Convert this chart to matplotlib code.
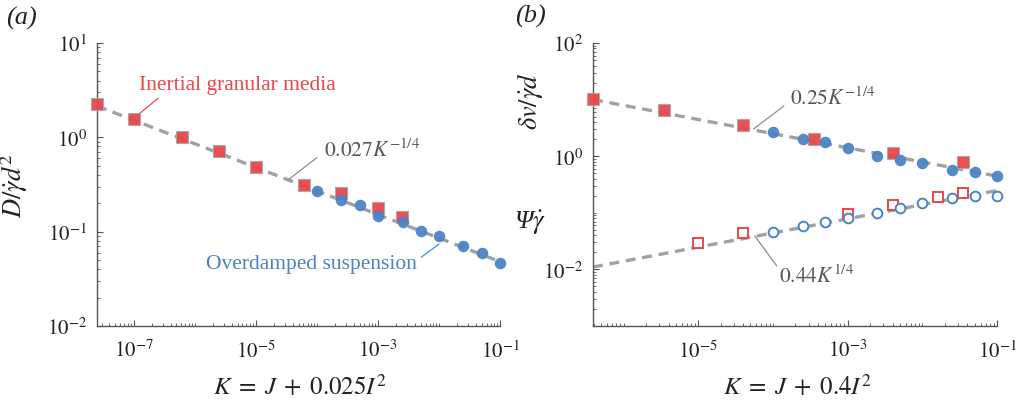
import numpy as np
import matplotlib
matplotlib.use("Agg")
import matplotlib.pyplot as plt

plt.rcParams['font.family'] = ['Liberation Serif', 'DejaVu Serif']
plt.rcParams['mathtext.fontset'] = 'stix'

RED = '#e8474a'
BLUE = '#4a84c4'
LINE = '#9ea2a8'
TXT = '#555a60'

# panel (a): diffusivity
a_gran_K = [2.5e-8, 1e-7, 6.2e-7, 2.5e-6, 1e-5, 6.2e-5, 2.5e-4, 1e-3, 2.5e-3]
a_gran_D = [2.24, 1.55, 1.0, 0.72, 0.485, 0.31, 0.255, 0.18, 0.143]
a_susp_K = [1e-4, 2.5e-4, 5e-4, 1e-3, 2.6e-3, 5.1e-3, 1e-2, 2.5e-2, 5e-2, 0.1]
a_susp_D = [0.27, 0.215, 0.19, 0.147, 0.126, 0.102, 0.089, 0.07, 0.059, 0.046]
a_fit_K = [2.5e-8, 0.1]
a_fit_coef = 0.027

# panel (b): velocity fluctuations and Psi*gamma_dot
b_gran_K = [3.9e-7, 3.5e-6, 4e-5, 3.5e-4, 4e-3, 3.5e-2]
b_gran_dv = [10.2, 6.6, 3.57, 2.02, 1.13, 0.80]
b_susp_K = [1e-4, 2.5e-4, 5e-4, 1e-3, 2.5e-3, 5e-3, 1e-2, 2.5e-2, 5e-2, 0.1]
b_susp_dv = [2.72, 2.02, 1.77, 1.38, 1.01, 0.86, 0.75, 0.58, 0.535, 0.455]
b_gran_psi_K = [1e-5, 4e-5, 1e-3, 4e-3, 1.6e-2, 3.5e-2]
b_gran_psi = [0.029, 0.0437, 0.096, 0.14, 0.189, 0.222]
b_susp_psi = [0.0455, 0.0596, 0.070, 0.081, 0.10, 0.121, 0.15, 0.18, 0.194, 0.20]
b_fit_K = [3.9e-7, 0.1]
b_fit_dv_coef = 0.25
b_fit_psi_coef = 0.44


def style_axes(ax, xlim, ylim, xmaj, ymaj):
    ax.set_xscale('log')
    ax.set_yscale('log')
    ax.set_xlim(*xlim)
    ax.set_ylim(*ylim)
    for s in ['top', 'right']:
        ax.spines[s].set_visible(False)
    for s in ['left', 'bottom']:
        ax.spines[s].set_color('#555555')
        ax.spines[s].set_linewidth(1.0)
    ax.set_xticks(xmaj)
    ax.set_xticklabels([r'$10^{%d}$' % round(np.log10(v)) for v in xmaj])
    ax.set_yticks(ymaj)
    ax.set_yticklabels([r'$10^{%d}$' % round(np.log10(v)) for v in ymaj])
    ax.xaxis.set_minor_locator(matplotlib.ticker.LogLocator(base=10, subs='all', numticks=30))
    ax.yaxis.set_minor_locator(matplotlib.ticker.LogLocator(base=10, subs='all', numticks=30))
    ax.xaxis.set_minor_formatter(matplotlib.ticker.NullFormatter())
    ax.yaxis.set_minor_formatter(matplotlib.ticker.NullFormatter())
    ax.tick_params(which='major', direction='in', length=4, width=0.8, color='#555555',
                   labelsize=15, labelcolor='#222222')
    ax.tick_params(which='minor', direction='in', length=2.5, width=0.6, color='#555555')
    ax.tick_params(axis='x', which='major', pad=10)
    ax.tick_params(axis='y', which='major', pad=7)


def leader(ax, p0, p1, color):
    ax.annotate('', xy=p0, xytext=p1,
                arrowprops=dict(arrowstyle='-', color=color, lw=0.9, shrinkA=0, shrinkB=0))


fig = plt.figure(figsize=(10.18, 4.02), dpi=100)
axa = fig.add_axes([0.0953, 0.1866, 0.396, 0.704])
axb = fig.add_axes([0.5825, 0.1866, 0.397, 0.704])

# ---- panel (a)
fk = np.array(a_fit_K)
axa.plot(fk, a_fit_coef * fk ** -0.25, color=LINE, lw=2.4, dashes=(3, 2), zorder=2)
axa.plot(a_gran_K, a_gran_D, 's', color=RED, ms=8.3, mec='#a8a8a8', mew=0.8, alpha=0.95, zorder=3,
         clip_on=False)
axa.plot(a_susp_K, a_susp_D, 'o', color=BLUE, ms=8.3, mew=0, alpha=0.95, zorder=4, clip_on=False)
style_axes(axa, (2.5e-8, 0.1), (1e-2, 10), [1e-7, 1e-5, 1e-3, 1e-1], [1e-2, 1e-1, 1, 10])

axa.text(1.23e-7, 3.64, 'Inertial granular media', color=RED, fontsize=15.5, va='center', ha='left')
leader(axa, (1.26e-7, 1.8), (2.5e-7, 2.6), RED)
axa.text(1.29e-4, 0.73, r'$0.027K^{-1/4}$', color=TXT, fontsize=15.5, va='center', ha='left')
leader(axa, (3.3e-5, 0.35), (1e-4, 0.61), '#8a8e94')
axa.text(4.4e-3, 0.046, 'Overdamped suspension', color=BLUE, fontsize=15.5, va='center', ha='right')
leader(axa, (1e-2, 0.074), (5.1e-3, 0.0537), '#2a9ad6')

axa.set_ylabel(r'$D/\dot{\gamma}d^2$', fontsize=19, color='#222222')
axa.yaxis.set_label_coords(-0.165, 0.5)
axa.set_xlabel(r'$K\;=\;J\;+\;0.025I^2$', fontsize=18, color='#222222')
axa.xaxis.set_label_coords(0.504, -0.165)

# ---- panel (b)
fk = np.array(b_fit_K)
axb.plot(fk, b_fit_dv_coef * fk ** -0.25, color=LINE, lw=2.4, dashes=(3, 2), zorder=2)
axb.plot(fk, b_fit_psi_coef * fk ** 0.25, color=LINE, lw=2.4, dashes=(3, 2), zorder=2)
axb.plot(b_gran_K, b_gran_dv, 's', color=RED, ms=8.3, mec='#a8a8a8', mew=0.8, alpha=0.95, zorder=3,
         clip_on=False)
axb.plot(b_susp_K, b_susp_dv, 'o', color=BLUE, ms=8.3, mew=0, alpha=0.95, zorder=4, clip_on=False)
axb.plot(b_gran_psi_K, b_gran_psi, 's', mfc='white', mec=RED, ms=7, mew=1.4, zorder=3)
axb.plot(b_susp_K, b_susp_psi, 'o', mfc='white', mec=BLUE, ms=7, mew=1.4, zorder=4, clip_on=False)
style_axes(axb, (3.9e-7, 0.1), (1e-3, 100), [1e-5, 1e-3, 1e-1], [1e-2, 1, 100])

axb.text(1.68e-4, 10.7, r'$0.25K^{-1/4}$', color=TXT, fontsize=15.5, va='center', ha='left')
leader(axb, (5.5e-5, 3.03), (1.4e-4, 7.7), '#8a8e94')
axb.text(1.2e-4, 7.7e-3, r'$0.44K^{1/4}$', color=TXT, fontsize=15.5, va='center', ha='left')
leader(axb, (5.7e-5, 0.039), (1.12e-4, 0.0116), '#8a8e94')

axb.text(-0.155, 0.8, r'$\delta v/\dot{\gamma}d$', transform=axb.transAxes, rotation=90,
         fontsize=19, color='#222222', ha='center', va='center')
axb.text(-0.155, 0.367, r'Ψ$\dot{\gamma}$', transform=axb.transAxes, style='italic',
         fontsize=19, color='#222222', ha='center', va='center')
axb.set_xlabel(r'$K\;=\;J\;+\;0.4I^2$', fontsize=18, color='#222222')
axb.xaxis.set_label_coords(0.505, -0.165)

fig.text(0.006, 0.955, '(a)', fontsize=19, style='italic', va='center', ha='left', color='#222222')
fig.text(0.506, 0.96, '(b)', fontsize=19, style='italic', va='center', ha='left', color='#222222')

fig.savefig('out.png', dpi=100)
